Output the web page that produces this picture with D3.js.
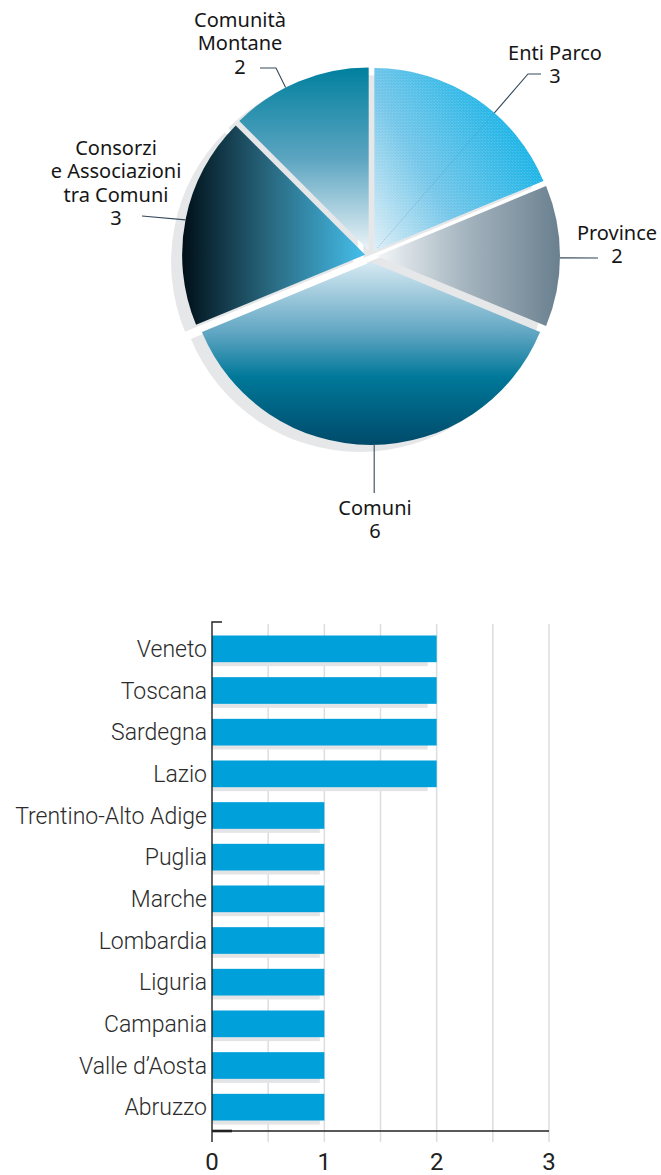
<!DOCTYPE html>
<html>
<head>
<meta charset="utf-8">
<script src="https://cdn.jsdelivr.net/npm/d3@7"></script>
<style>
  html, body { margin: 0; padding: 0; background: #fff; }
  svg { display: block; }
</style>
</head>
<body>
<svg id="chart" width="661" height="1175"></svg>
<script>
// ---- Pie: enti per tipologia ----
const pieCategories = ["Enti Parco", "Province", "Comuni", "Consorzi e Associazioni tra Comuni", "Comunità Montane"];
const pieValues = [3, 2, 6, 3, 2];
const pieLabelLines = [
  ["Enti Parco"],
  ["Province"],
  ["Comuni"],
  ["Consorzi", "e Associazioni", "tra Comuni"],
  ["Comunità", "Montane"]
];

// ---- Bars: enti per regione ----
const regions = ["Veneto", "Toscana", "Sardegna", "Lazio", "Trentino-Alto Adige", "Puglia",
                 "Marche", "Lombardia", "Liguria", "Campania", "Valle d’Aosta", "Abruzzo"];
const regionValues = [2, 2, 2, 2, 1, 1, 1, 1, 1, 1, 1, 1];
const xTickValues = [0, 1, 2, 3];

const svg = d3.select("#chart");
const defs = svg.append("defs");

// ---------------- pie ----------------
const cx = 371, cy = 256, R = 183, EXPLODE = 6;
const SHADOW = [-11, 7];

// gradient per slice: [x1,y1,x2,y2, stops]
const sliceGradients = [
  [0, 1, 1, 0.35, [[0, "#dceef6"], [0.4, "#6fc4e8"], [1, "#00ade5"]]],
  [0, 0, 1, 0, [[0, "#f3f6f8"], [0.45, "#a9b8c2"], [1, "#6a808f"]]],
  [0, 0, 0, 1, [[0, "#d6e9f2"], [0.39, "#5fa5c2"], [0.63, "#007899"], [1, "#004a6a"]]],
  [0, 0, 1, 0, [[0, "#000f18"], [0.5, "#2a6c84"], [1, "#45bfeb"]]],
  [0, 0, 0, 1, [[0, "#00809e"], [0.5, "#5ca5c1"], [1, "#ecf4f8"]]]
];
sliceGradients.forEach((g, i) => {
  const lg = defs.append("linearGradient").attr("id", "slice" + i)
    .attr("x1", g[0]).attr("y1", g[1]).attr("x2", g[2]).attr("y2", g[3]);
  g[4].forEach(s => lg.append("stop").attr("offset", s[0]).attr("stop-color", s[1]));
});

// fine diagonal hatching on the Enti Parco slice
const hatch = defs.append("pattern").attr("id", "hatch")
  .attr("patternUnits", "userSpaceOnUse").attr("width", 3).attr("height", 3);
hatch.append("path").attr("d", "M-1,1 l2,2 M0,0 l3,3 M2,-1 l2,2")
  .attr("stroke", "#ffffff").attr("stroke-opacity", 0.22).attr("stroke-width", 0.8);

const pieData = pieCategories.map((c, i) => ({ c, v: pieValues[i], lines: pieLabelLines[i] }));
const pie = d3.pie().sort(null).value(d => d.v);
const arc = d3.arc().innerRadius(0).outerRadius(R);
const arcs = pie(pieData);

function offsetOf(a) {
  const mid = (a.startAngle + a.endAngle) / 2;
  return [EXPLODE * Math.sin(mid), -EXPLODE * Math.cos(mid)];
}

const gPie = svg.append("g");
// shadows first
gPie.selectAll("path.shadow").data(arcs).join("path")
  .attr("class", "shadow")
  .attr("transform", a => { const o = offsetOf(a); return `translate(${cx + o[0] + SHADOW[0]},${cy + o[1] + SHADOW[1]})`; })
  .attr("d", arc)
  .attr("fill", "#e6e7e9");

gPie.selectAll("path.slice").data(arcs).join("path")
  .attr("class", "slice")
  .attr("transform", a => { const o = offsetOf(a); return `translate(${cx + o[0]},${cy + o[1]})`; })
  .attr("d", arc)
  .attr("fill", (a, i) => `url(#slice${i})`);

gPie.append("path")
  .attr("transform", () => { const o = offsetOf(arcs[0]); return `translate(${cx + o[0]},${cy + o[1]})`; })
  .attr("d", arc(arcs[0]))
  .attr("fill", "url(#hatch)");

// label layout: angle on the rim (deg), leader path points, text anchor x, first baseline, line step
const labelLayout = [
  { angle: 41, pts: [[528, 74], [541, 74]], tx: 555, y0: 60, inner: true },
  { angle: 90.6, pts: [[598, 258]], tx: 617, y0: 240 },
  { angle: 179, pts: [[374.2, 493]], tx: 375, y0: 515 },
  { angle: 281, pts: [[142, 216]], tx: 116, y0: 155 },
  { angle: 333, pts: [[276, 68], [260, 68]], tx: 240, y0: 27 }
];
const LINE_STEP = 23.3;

const gLab = svg.append("g");
arcs.forEach((a, i) => {
  const L = labelLayout[i];
  const o = offsetOf(a);
  const ox = cx + o[0], oy = cy + o[1];
  const t = L.angle * Math.PI / 180;
  const rim = [ox + R * Math.sin(t), oy - R * Math.cos(t)];
  if (L.inner) {
    gLab.append("line")
      .attr("x1", ox + 3).attr("y1", oy - 3).attr("x2", rim[0]).attr("y2", rim[1])
      .attr("stroke", "#3f7896").attr("stroke-opacity", 0.45)
      .attr("stroke-width", 0.8).attr("stroke-dasharray", "1.2,1.4");
  }
  gLab.append("path")
    .attr("d", d3.line()([rim, ...L.pts]))
    .attr("fill", "none").attr("stroke", "#34495a").attr("stroke-width", 1.1);
  const lines = [...a.data.lines, String(a.data.v)];
  const txt = gLab.append("text")
    .attr("text-anchor", "middle")
    .attr("font-family", "'Noto Sans', 'Open Sans', sans-serif")
    .attr("font-size", 20)
    .attr("fill", "#161616");
  lines.forEach((s, k) => {
    txt.append("tspan")
      .attr("x", L.tx).attr("y", L.y0 + k * LINE_STEP)
      .text(s);
  });
});

// ---------------- bars ----------------
const x = d3.scaleLinear().domain([0, 3]).range([212, 549]);
const y = d3.scaleBand().domain(regions).range([628, 1128]).paddingInner(0.36).paddingOuter(0.18);
const axisY = 1131, gridTop = 624, gridBottom = 1142;

const gBar = svg.append("g");

// vertical grid every half unit
gBar.selectAll("line.grid").data(d3.range(0.5, 3.01, 0.5)).join("line")
  .attr("class", "grid")
  .attr("x1", d => x(d)).attr("x2", d => x(d))
  .attr("y1", gridTop).attr("y2", gridBottom)
  .attr("stroke", "#dcdddf").attr("stroke-width", 1.5);

const barData = regions.map((r, i) => ({ r, v: regionValues[i] }));

// soft grey shadow under each bar
gBar.selectAll("rect.bshadow").data(barData).join("rect")
  .attr("class", "bshadow")
  .attr("x", x(0))
  .attr("y", d => y(d.r) + y.bandwidth() - 1)
  .attr("width", d => (x(d.v) - x(0)) * 0.96)
  .attr("height", 5)
  .attr("fill", "#e3e4e6");

gBar.selectAll("rect.bar").data(barData).join("rect")
  .attr("class", "bar")
  .attr("x", x(0))
  .attr("y", d => y(d.r))
  .attr("width", d => x(d.v) - x(0))
  .attr("height", y.bandwidth())
  .attr("fill", "#00a0da");

// axes
gBar.append("line")
  .attr("x1", x(0)).attr("x2", x(3)).attr("y1", axisY).attr("y2", axisY)
  .attr("stroke", "#222").attr("stroke-width", 1.4);
gBar.append("line")
  .attr("x1", x(0)).attr("x2", x(0) + 20).attr("y1", axisY).attr("y2", axisY)
  .attr("stroke", "#222").attr("stroke-width", 2.6);
gBar.append("path")
  .attr("d", `M${x(0) + 10},622 H${x(0)} V${gridBottom}`)
  .attr("fill", "none").attr("stroke", "#222").attr("stroke-width", 1.4);

gBar.selectAll("text.cat").data(barData).join("text")
  .attr("class", "cat")
  .attr("x", x(0) - 5)
  .attr("y", d => y(d.r) + y.bandwidth() / 2)
  .attr("dy", "0.36em")
  .attr("text-anchor", "end")
  .attr("font-family", "Roboto, 'Liberation Sans', sans-serif")
  .attr("font-weight", 300)
  .attr("font-size", 23)
  .attr("fill", "#2b2b2b")
  .text(d => d.r);

gBar.selectAll("text.tick").data(xTickValues).join("text")
  .attr("class", "tick")
  .attr("x", d => x(d))
  .attr("y", 1170)
  .attr("text-anchor", "middle")
  .attr("font-family", "Roboto, 'Liberation Sans', sans-serif")
  .attr("font-size", 24)
  .attr("fill", "#222")
  .text(d => d);
</script>
</body>
</html>
